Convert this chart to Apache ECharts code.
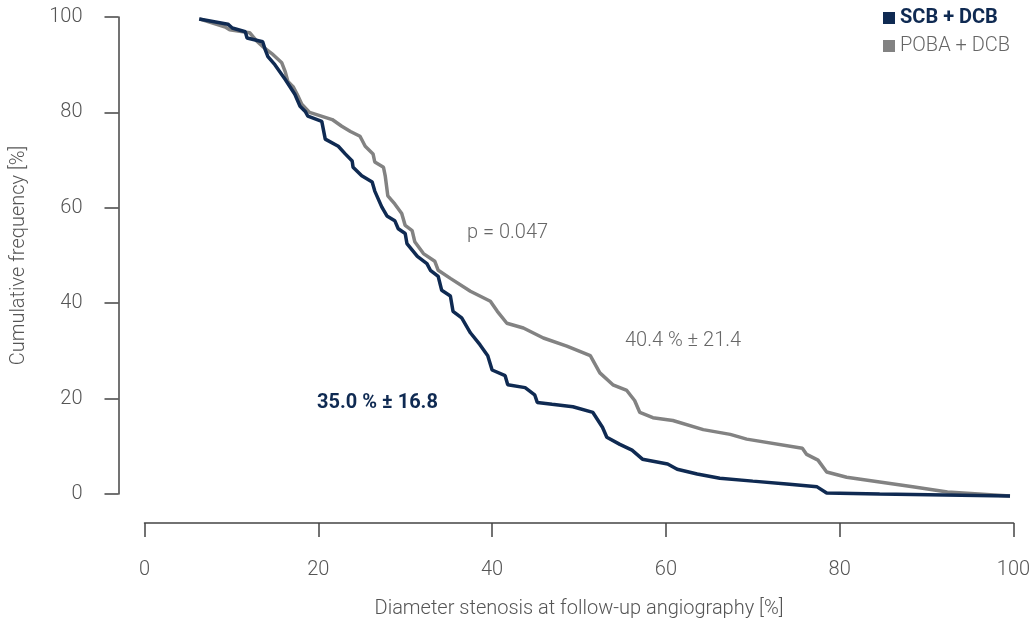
<!DOCTYPE html>
<html>
<head>
<meta charset="utf-8">
<script src="https://cdn.jsdelivr.net/npm/echarts@6/dist/echarts.min.js"></script>
<style>html,body{margin:0;padding:0;background:#fff}#c{width:1034px;height:624px}</style>
</head>
<body>
<div id="c"></div>
<script>
const seriesNames = ['SCB + DCB', 'POBA + DCB'];
const xTicks = [0, 20, 40, 60, 80, 100];
const yTicks = [0, 20, 40, 60, 80, 100];
// [diameter stenosis %, cumulative frequency %]
const scbDcb = [
  [6.3,99.6],[9.6,98.5],[10.1,97.7],[11.6,96.9],[11.8,95.6],[13.6,94.8],[13.9,93.1],[14.2,91.7],
  [15.0,90.0],[16.2,86.9],[17.3,83.8],[17.9,81.3],[18.5,80.2],[18.8,79.2],[20.4,78.1],[20.8,74.4],
  [22.3,72.9],[23.1,71.3],[23.9,69.8],[24.0,68.5],[25.0,66.7],[26.2,65.4],[26.5,63.5],[27.3,60.2],
  [27.9,58.3],[28.8,57.3],[29.2,55.6],[30.0,54.6],[30.2,52.5],[31.4,49.8],[32.5,48.3],[32.9,46.9],
  [33.8,45.6],[34.2,42.7],[35.2,41.5],[35.5,38.3],[36.5,36.9],[37.5,33.8],[38.6,31.3],[39.5,29.0],
  [40.0,26.0],[41.5,24.8],[41.8,22.9],[43.8,22.3],[44.9,20.8],[45.2,19.2],[46.9,18.8],[49.3,18.3],
  [51.6,17.1],[52.7,14.0],[53.2,11.9],[54.7,10.4],[56.1,9.2],[57.3,7.3],[60.2,6.3],[61.3,5.2],
  [63.6,4.2],[66.2,3.3],[70.0,2.7],[73.9,2.1],[77.4,1.5],[78.5,0.2],[84.6,0.0],[99.6,-0.4]
];
const pobaDcb = [
  [6.3,99.6],[9.3,97.9],[9.8,97.3],[12.1,96.7],[13.0,94.8],[13.6,93.8],[14.8,92.1],[15.8,90.4],
  [16.2,88.5],[16.5,86.5],[17.1,85.4],[17.7,83.3],[18.1,81.7],[19.0,80.0],[21.6,78.5],[22.7,77.1],
  [23.7,76.0],[24.8,75.0],[25.4,72.9],[26.3,71.3],[26.5,69.6],[27.5,68.5],[27.7,66.7],[28.0,62.5],
  [28.8,60.8],[29.6,58.8],[30.0,56.3],[30.8,55.2],[31.1,52.9],[32.1,50.4],[33.4,48.8],[33.8,46.9],
  [35.2,45.2],[37.5,42.5],[39.8,40.4],[40.6,38.3],[41.7,35.8],[43.6,34.8],[45.9,32.7],[48.6,31.0],
  [51.3,29.0],[52.4,25.4],[53.9,22.9],[55.5,21.7],[56.4,19.6],[57.0,17.1],[58.5,16.0],[60.8,15.4],
  [64.3,13.5],[67.4,12.5],[69.3,11.5],[75.7,9.6],[76.2,8.3],[77.5,7.1],[78.5,4.6],[80.8,3.5],
  [84.6,2.5],[88.4,1.5],[92.4,0.4],[99.6,-0.4]
];
const annotations = ['p = 0.047', '40.4 % ± 21.4', '35.0 % ± 16.8'];

const NAVY = '#0f2a52', GRAY = '#828282', TXT = '#555';
const FONT = 'Roboto';
const FS = 20;
const chart = echarts.init(document.getElementById('c'));
chart.setOption({
  animation: false,
  textStyle: { fontFamily: FONT },
  grid: { left: 144.5, right: 20.5, top: 17, bottom: 127 },
  legend: {
    orient: 'vertical', left: 878, top: 3, itemGap: 8,
    icon: 'rect', itemWidth: 12, itemHeight: 12,
    data: [
      { name: seriesNames[0], textStyle: { color: NAVY, fontWeight: 'bold', fontSize: FS, fontFamily: FONT } },
      { name: seriesNames[1], textStyle: { color: '#666', fontWeight: 300, fontSize: FS, fontFamily: FONT } }
    ]
  },
  xAxis: {
    type: 'value', min: 0, max: 100, interval: 20, offset: 29,
    name: 'Diameter stenosis at follow-up angiography [%]', nameLocation: 'middle', nameGap: 76,
    nameTextStyle: { color: TXT, fontSize: FS, fontWeight: 300, fontFamily: FONT },
    axisLine: { show: true, onZero: false, lineStyle: { color: '#444', width: 1.5 } },
    axisTick: { show: true, length: 14, lineStyle: { color: '#444', width: 1.5 } },
    axisLabel: { color: TXT, fontSize: FS, fontWeight: 300, margin: 37, formatter: v => xTicks.includes(v) ? String(v) : '' },
    splitLine: { show: false }
  },
  yAxis: {
    type: 'value', min: 0, max: 100, interval: 20, offset: 26,
    name: 'Cumulative frequency [%]', nameLocation: 'middle', nameGap: 90, nameRotate: 90,
    nameTextStyle: { color: TXT, fontSize: FS, fontWeight: 300, fontFamily: FONT },
    axisLine: { show: true, onZero: false, lineStyle: { color: '#444', width: 1.5 } },
    axisTick: { show: true, length: 14, lineStyle: { color: '#444', width: 1.5 } },
    axisLabel: { color: TXT, fontSize: FS, fontWeight: 300, margin: 36, formatter: v => yTicks.includes(v) ? String(v) : '' },
    splitLine: { show: false }
  },
  graphic: [
    { type: 'text', left: 467, top: 223, style: { text: annotations[0], fill: '#666', fontSize: FS, fontWeight: 300, fontFamily: FONT } },
    { type: 'text', left: 625, top: 331, style: { text: annotations[1], fill: '#666', fontSize: FS, fontWeight: 300, fontFamily: FONT } },
    { type: 'text', left: 317, top: 393, style: { text: annotations[2], fill: NAVY, fontSize: FS, fontWeight: 'bold', fontFamily: FONT } }
  ],
  series: [
    { name: seriesNames[1], type: 'line', data: pobaDcb, showSymbol: false, clip: false,
      lineStyle: { color: GRAY, width: 3.5 }, itemStyle: { color: GRAY } },
    { name: seriesNames[0], type: 'line', data: scbDcb, showSymbol: false, clip: false,
      lineStyle: { color: NAVY, width: 3.5 }, itemStyle: { color: NAVY } }
  ]
});
</script>
</body>
</html>
